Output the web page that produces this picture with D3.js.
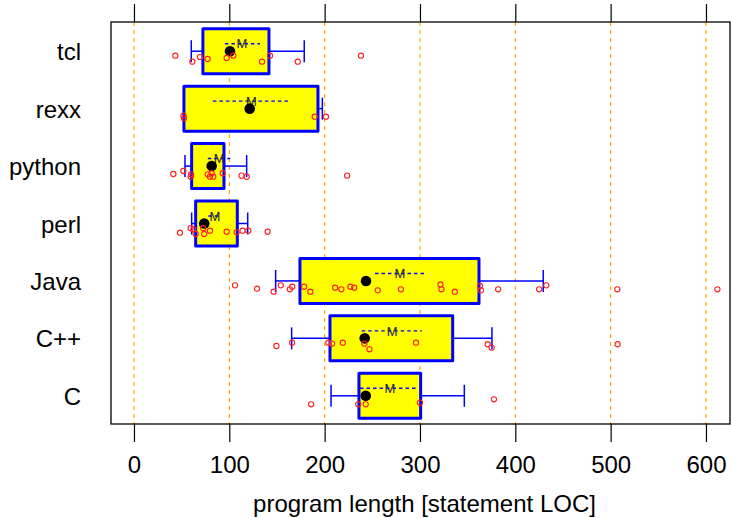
<!DOCTYPE html>
<html>
<head>
<meta charset="utf-8">
<script src="https://cdn.jsdelivr.net/npm/d3@7"></script>
<style>
  html, body { margin: 0; padding: 0; background: #fff; }
  svg { display: block; }
  text { font-family: "Liberation Sans", Arial, Helvetica, sans-serif; }
</style>
</head>
<body>
<svg id="chart" width="731" height="518"></svg>
<script>
// ---------- data ----------
const categories = ["tcl", "rexx", "python", "perl", "Java", "C++", "C"];
const q1          = [72.3, 52.4, 60.5, 64.7, 174.1, 205.6, 236.0];
const q3          = [141.6, 193.0, 94.4, 108.4, 361.9, 334.3, 300.7];
const whiskerLow  = [60.1, 52.4, 53.5, 60.5, 148.6, 165.4, 206.7];
const whiskerHigh = [178.6, 197.6, 118.2, 119.3, 429.3, 375.5, 346.5];
const medians     = [100.7, 121.4, 81.5, 73.7, 243.4, 242.0, 243.1];
const means       = [113.3, 123.3, 89.4, 84.9, 279.0, 270.9, 268.5];
const meanLow     = [95.4, 82.8, 77.4, 78.0, 252.8, 238.9, 237.1];
const meanHigh    = [132.1, 162.2, 101.0, 90.0, 306.3, 301.8, 298.2];

const tclPts    = [43.4, 61.2, 69.2, 77.3, 97.2, 104.2, 134.3, 142.7, 171.8, 238.1];
const rexxPts   = [51.9, 52.4, 189.6, 201.4];
const pythonPts = [41.3, 51.8, 59.5, 59.8, 77.4, 79.7, 81.5, 83.2, 93.1, 112.9, 118.2, 223.6];
const perlPts   = [48.2, 59.5, 62.3, 64.7, 72.6, 73.7, 79.7, 97.2, 107.7, 113.9, 119.9, 140.2];
const javaPts   = [106, 129, 146.5, 154, 163.5, 166, 178.5, 185, 211, 217.5, 227, 231, 255.7, 280,
                   321.5, 322.5, 336.5, 363, 364, 382, 425, 432.5, 507, 612];
const cppPts    = [149.4, 165.9, 203.9, 207.8, 219.0, 241.7, 247.0, 295.8, 371.0, 375.2, 507.3];
const cPts      = [185.8, 235.2, 243.1, 300.0, 377.6];

// vertical jitter of each point (0..1)
const tclJit    = [0.13, 0.93, 0.31, 0.57, 0.44, 0.13, 0.93, 0.13, 0.93, 0.13];
const rexxJit   = [0.48, 0.83, 0.61, 0.61];
const pythonJit = [0.59, 0.19, 0.95, 0.63, 0.63, 0.95, 0.49, 0.95, 0.49, 0.81, 0.95, 0.81];
const perlJit   = [0.76, 0.17, 0.31, 0.93, 0.17, 0.93, 0.49, 0.63, 0.71, 0.49, 0.49, 0.63];
const javaJit   = [0.12, 0.57, 0.97, 0.12, 0.65, 0.31, 0.31, 0.97, 0.44, 0.65, 0.31, 0.44, 0.79, 0.65,
                   0.0, 0.65, 0.97, 0.21, 0.79, 0.65, 0.65, 0.12, 0.65, 0.65];
const cppJit    = [0.55, 0.11, 0.11, 0.24, 0.11, 0.24, 0.99, 0.11, 0.32, 0.77, 0.32];
const cJit      = [0.67, 0.67, 0.67, 0.45, 0.0];

const pointValues = [tclPts, rexxPts, pythonPts, perlPts, javaPts, cppPts, cPts];
const pointJitter = [tclJit, rexxJit, pythonJit, perlJit, javaJit, cppJit, cJit];

const xTicks = [0, 100, 200, 300, 400, 500, 600];
const xLabel = "program length [statement LOC]";

// ---------- layout ----------
const W = 731, H = 518;
const plot = { left: 111, right: 730, top: 22, bottom: 424 };

const svg = d3.select("#chart");

const x = d3.scaleLinear().domain([-24.1, 625.2]).range([plot.left, plot.right]);
const y = d3.scaleBand().domain(categories).range([plot.top, plot.bottom]).padding(0);
const bw = y.bandwidth();
const jitter = d3.scaleLinear().domain([0, 1]).range([4, 11.5]);
const boxH = 45, capH = 22;
const cy = i => y(categories[i]) + bw / 2;

// grid lines
svg.append("g").selectAll("line").data(xTicks).join("line")
  .attr("x1", d => x(d)).attr("x2", d => x(d))
  .attr("y1", plot.top).attr("y2", plot.bottom)
  .attr("stroke", "#FFA500").attr("stroke-width", 1.2)
  .attr("stroke-dasharray", "4,4");

// boxes
const rows = categories.map((c, i) => i);
const g = svg.append("g");

// whiskers
g.selectAll("line.wl").data(rows).join("line")
  .attr("x1", i => x(whiskerLow[i])).attr("x2", i => x(q1[i]))
  .attr("y1", i => cy(i) + 0.5).attr("y2", i => cy(i) + 0.5)
  .attr("stroke", "#0000FF").attr("stroke-width", 1.5);
g.selectAll("line.wh").data(rows).join("line")
  .attr("x1", i => x(q3[i])).attr("x2", i => x(whiskerHigh[i]))
  .attr("y1", i => cy(i) + 0.5).attr("y2", i => cy(i) + 0.5)
  .attr("stroke", "#0000FF").attr("stroke-width", 1.5);
g.selectAll("line.cl").data(rows).join("line")
  .attr("x1", i => x(whiskerLow[i])).attr("x2", i => x(whiskerLow[i]))
  .attr("y1", i => cy(i) + 0.5 - capH / 2).attr("y2", i => cy(i) + 0.5 + capH / 2)
  .attr("stroke", "#0000FF").attr("stroke-width", 1.5);
g.selectAll("line.ch").data(rows).join("line")
  .attr("x1", i => x(whiskerHigh[i])).attr("x2", i => x(whiskerHigh[i]))
  .attr("y1", i => cy(i) + 0.5 - capH / 2).attr("y2", i => cy(i) + 0.5 + capH / 2)
  .attr("stroke", "#0000FF").attr("stroke-width", 1.5);

g.selectAll("rect").data(rows).join("rect")
  .attr("x", i => x(q1[i])).attr("width", i => x(q3[i]) - x(q1[i]))
  .attr("y", i => cy(i) + 0.5 - boxH / 2).attr("height", boxH)
  .attr("fill", "#FFFF00").attr("stroke", "#0000FF").attr("stroke-width", 3)
  .attr("stroke-linejoin", "round");

// mean +- se dashed line and M
g.selectAll("line.m").data(rows).join("line")
  .attr("x1", i => x(meanLow[i])).attr("x2", i => x(meanHigh[i]))
  .attr("y1", i => cy(i) - 7).attr("y2", i => cy(i) - 7)
  .attr("stroke", "#0000FF").attr("stroke-width", 1.4)
  .attr("stroke-dasharray", "3.5,3");
g.selectAll("text.m").data(rows).join("text")
  .attr("x", i => x(means[i])).attr("y", i => cy(i) - 7)
  .attr("dy", "0.36em")
  .attr("text-anchor", "middle")
  .attr("font-size", 13).attr("fill", "#222")
  .text("M");

// median dots
g.selectAll("circle.med").data(rows).join("circle")
  .attr("cx", i => x(medians[i])).attr("cy", i => cy(i) + 0.5)
  .attr("r", 5.3).attr("fill", "#000");

// points
rows.forEach(i => {
  const pts = pointValues[i].map((v, k) => ({ v, j: pointJitter[i][k] }));
  g.append("g").selectAll("circle").data(pts).join("circle")
    .attr("cx", d => x(d.v)).attr("cy", d => cy(i) + jitter(d.j))
    .attr("r", 2.6).attr("fill", "none")
    .attr("stroke", "#FF2020").attr("stroke-width", 1.1);
});

// frame
svg.append("rect")
  .attr("x", plot.left).attr("y", plot.top)
  .attr("width", plot.right - plot.left).attr("height", plot.bottom - plot.top)
  .attr("fill", "none").attr("stroke", "#000").attr("stroke-width", 1.3);

// axes
const axB = svg.append("g").attr("transform", `translate(0,${plot.bottom})`)
  .call(d3.axisBottom(x).tickValues(xTicks).tickSize(18).tickPadding(14).tickSizeOuter(0));
axB.select(".domain").remove();
axB.selectAll("line").attr("stroke", "#000").attr("stroke-width", 1.2);
axB.selectAll("text").attr("font-size", 24).attr("fill", "#000")
  .attr("font-family", "'Liberation Sans', Arial, sans-serif");

const axT = svg.append("g").attr("transform", `translate(0,${plot.top})`)
  .call(d3.axisTop(x).tickValues(xTicks).tickSize(18).tickFormat("").tickSizeOuter(0));
axT.select(".domain").remove();
axT.selectAll("line").attr("stroke", "#000").attr("stroke-width", 1.2);

// category labels
svg.append("g").selectAll("text").data(categories).join("text")
  .attr("x", 81).attr("y", d => y(d) + bw / 2)
  .attr("dy", "0.4em")
  .attr("text-anchor", "end")
  .attr("font-size", 24).attr("fill", "#000")
  .text(d => d);

// x label
svg.append("text")
  .attr("x", (plot.left + plot.right) / 2 + 4).attr("y", 512)
  .attr("text-anchor", "middle")
  .attr("font-size", 24).attr("fill", "#000")
  .text(xLabel);
</script>
</body>
</html>
